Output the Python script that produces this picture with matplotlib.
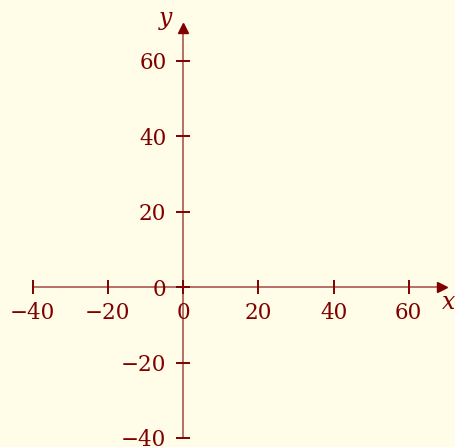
import matplotlib.pyplot as plt
import numpy as np

# tick positions for both axes
x_ticks = [-40, -20, 0, 20, 40, 60]
y_ticks = [-40, -20, 0, 20, 40, 60]
x_range = [-40, 70]
y_range = [-40, 70]

dark_red = '#800000'
bg = '#fffce8'

plt.rcParams['font.family'] = 'DejaVu Serif'
plt.rcParams['mathtext.fontset'] = 'dejavuserif'

fig = plt.figure(figsize=(4.55, 4.47), dpi=100, facecolor=bg)
ax = fig.add_axes([0, 0, 1, 1], facecolor=bg)
ax.set_xlim(-48.67, 72.3)
ax.set_ylim(-42.4, 76.1)

# axes through the origin
for side in ['left', 'bottom']:
    ax.spines[side].set_position(('data', 0))
    ax.spines[side].set_color(dark_red)
    ax.spines[side].set_alpha(0.65)
    ax.spines[side].set_linewidth(1.2)
ax.spines['bottom'].set_bounds(x_range[0], x_range[1] - 1)
ax.spines['left'].set_bounds(y_range[0], y_range[1] - 1)
ax.spines['top'].set_visible(False)
ax.spines['right'].set_visible(False)

# arrow heads
ax.plot(x_range[1] - 1.2, 0, marker='>', ms=6.5, color=dark_red, clip_on=False)
ax.plot(0, y_range[1] - 1.2, marker='^', ms=6.5, color=dark_red, clip_on=False)

ax.set_xticks(x_ticks)
ax.set_yticks(y_ticks)
ax.set_xticklabels([f'{t}'.replace('-', '\u2212') for t in x_ticks])
ax.set_yticklabels([f'{t}'.replace('-', '\u2212') for t in y_ticks])
ax.tick_params(direction='inout', length=10, width=1.4, color=dark_red,
               labelcolor=dark_red, labelsize=15.5)
ax.tick_params(axis='x', pad=5.5)
ax.tick_params(axis='y', pad=7)

ax.text(70.6, -4, 'x', style='italic', fontsize=17, color=dark_red,
        ha='center', va='center')
ax.text(-4.6, 71.3, 'y', style='italic', fontsize=17, color=dark_red,
        ha='center', va='center')

fig.savefig('out.png', dpi=100, facecolor=bg)
